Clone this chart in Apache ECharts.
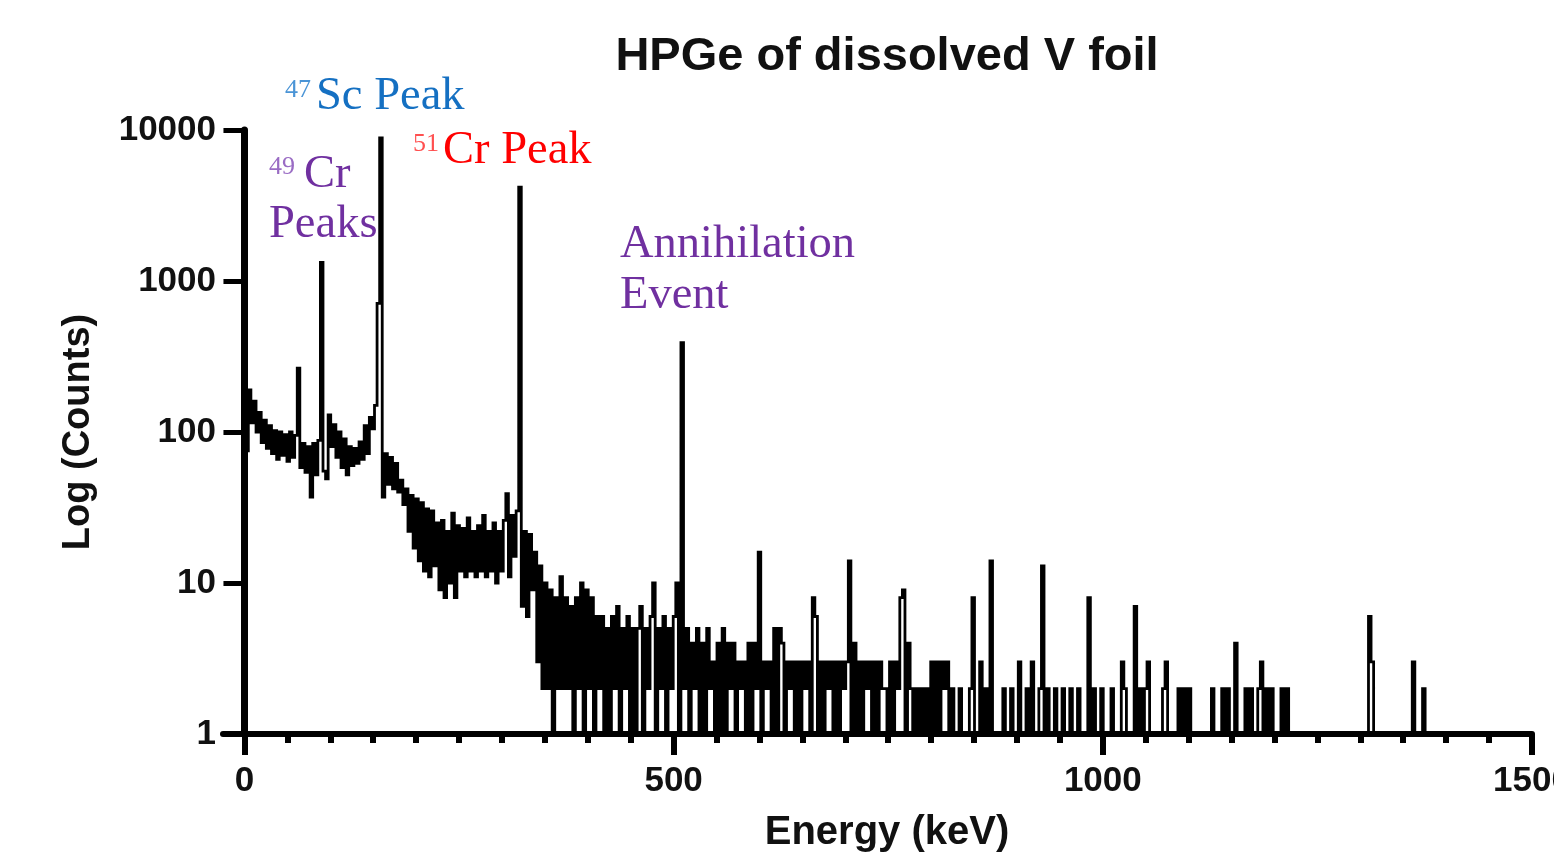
<!DOCTYPE html>
<html>
<head>
<meta charset="utf-8">
<title>HPGe of dissolved V foil</title>
<script src="https://cdn.jsdelivr.net/npm/echarts@6/dist/echarts.min.js"></script>
<style>
  html, body { margin: 0; padding: 0; background: #fff; }
  #chart { width: 1554px; height: 852px; }
</style>
</head>
<body>
<div id="chart"></div>
<script>
// spectrum, one value per 3 keV channel (0 counts drawn as 1)
const keVPerChannel = 3;
const counts = [
  210, 75, 190, 115, 160, 100, 135, 85, 120, 78,
  110, 72, 102, 66, 100, 70, 96, 64, 100, 68,
  95, 265, 58, 84, 54, 80, 37, 84, 52, 88,
  1330, 55, 49, 130, 80, 112, 68, 100, 58, 90,
  52, 80, 60, 78, 62, 86, 66, 110, 72, 125,
  105, 150, 710, 8850, 37, 72, 45, 68, 42, 62,
  40, 48, 33, 42, 22, 38, 17, 36, 14, 34,
  12, 31, 11, 30, 13, 25, 9, 26, 8, 22,
  10, 29, 8, 24, 12, 23, 11, 27, 12, 22,
  11, 24, 12, 28, 11, 22, 12, 25, 10, 22,
  12, 26, 39, 11, 28, 15, 30, 4180, 7, 22,
  6, 21, 9, 16, 3, 13, 2, 10, 2, 9,
  1, 8, 2, 11, 2, 8, 2, 7, 1, 8,
  2, 10, 1, 9, 2, 8, 1, 6, 2, 6,
  1, 5, 1, 6, 2, 7, 1, 5, 2, 6,
  1, 5, 1, 5, 7, 1, 5, 2, 6, 10,
  1, 5, 2, 6, 1, 5, 2, 6, 10, 1,
  390, 2, 5, 1, 4, 2, 5, 1, 4, 1,
  5, 2, 3, 1, 4, 1, 5, 1, 4, 2,
  4, 1, 3, 2, 3, 1, 4, 1, 4, 2,
  16, 1, 3, 2, 3, 1, 5, 1, 5, 4,
  1, 3, 2, 3, 1, 3, 1, 3, 2, 3,
  1, 8, 6, 1, 3, 1, 3, 2, 3, 1,
  3, 1, 3, 2, 3, 14, 1, 4, 1, 3,
  1, 3, 2, 3, 1, 3, 1, 3, 2, 2,
  1, 3, 1, 3, 2, 8, 9, 1, 4, 2,
  1, 2, 1, 2, 1, 2, 1, 3, 1, 3,
  1, 3, 2, 3, 1, 2, 1, 1, 2, 1,
  1, 1, 2, 8, 1, 1, 3, 1, 2, 1,
  14, 1, 1, 1, 1, 2, 1, 1, 2, 1,
  1, 3, 1, 1, 2, 1, 3, 1, 1, 2,
  13, 1, 2, 1, 1, 2, 1, 1, 2, 1,
  1, 2, 1, 1, 2, 1, 1, 1, 8, 1,
  2, 1, 1, 2, 1, 1, 1, 2, 1, 1,
  1, 3, 2, 1, 1, 1, 7, 1, 2, 1,
  2, 3, 1, 1, 1, 1, 1, 2, 3, 1,
  1, 1, 1, 2, 1, 2, 1, 2, 1, 1,
  1, 1, 1, 1, 1, 1, 2, 1, 1, 1,
  2, 1, 2, 1, 1, 4, 1, 1, 1, 2,
  1, 2, 1, 1, 2, 3, 1, 2, 1, 2,
  1, 1, 1, 2, 1, 2, 1, 1, 1, 1,
  1, 1, 1, 1, 1, 1, 1, 1, 1, 1,
  1, 1, 1, 1, 1, 1, 1, 1, 1, 1,
  1, 1, 1, 1, 1, 1, 1, 6, 3, 1,
  1, 1, 1, 1, 1, 1, 1, 1, 1, 1,
  1, 1, 1, 1, 3, 1, 1, 1, 2, 1,
  1, 1, 1, 1
];

const xMajorTicks = [0, 500, 1000, 1500];
const xMinorTicks = [50, 100, 150, 200, 250, 300, 350, 400, 450,
  550, 600, 650, 700, 750, 800, 850, 900, 950,
  1050, 1100, 1150, 1200, 1250, 1300, 1350, 1400, 1450];

const spectrum = counts.map((c, i) => [i * keVPerChannel, c]);

const chart = echarts.init(document.getElementById('chart'));

const sans = '"Liberation Sans", Arial, sans-serif';
const serif = '"Liberation Serif", "Times New Roman", serif';
const ink = '#111';

function note(text, x, y, size, color) {
  return {
    type: 'text',
    style: {
      text: text, x: x, y: y,
      font: size + 'px ' + serif,
      fill: color,
      align: 'left', verticalAlign: 'middle',
      textAlign: 'left', textVerticalAlign: 'middle'
    },
    silent: true
  };
}

const option = {
  animation: false,
  backgroundColor: '#fff',
  title: {
    text: 'HPGe of dissolved V foil',
    left: 887,
    top: 34,
    padding: 0,
    textAlign: 'center',
    textStyle: { fontFamily: sans, fontSize: 47, fontWeight: 'bold', color: ink }
  },
  grid: { left: 223, right: 22, top: 130, bottom: 118, outerBoundsMode: 'none', containLabel: false },
  xAxis: [
    {
      type: 'value',
      min: -25,
      max: 1500,
      position: 'bottom',
      name: 'Energy (keV)',
      nameLocation: 'middle',
      nameGap: 79,
      nameTextStyle: { fontFamily: sans, fontSize: 40, fontWeight: 'bold', color: ink, padding: [0, 0, 0, 19] },
      axisLine: { onZero: false, lineStyle: { color: '#000', width: 6 } },
      axisTick: { customValues: xMajorTicks, length: 21, lineStyle: { color: '#000', width: 6 } },
      axisLabel: {
        customValues: xMajorTicks,
        margin: 30,
        fontFamily: sans, fontSize: 35, fontWeight: 'bold', color: ink,
        formatter: v => String(v)
      },
      splitLine: { show: false }
    },
    {
      type: 'value',
      min: -25,
      max: 1500,
      position: 'bottom',
      axisLine: { show: false, onZero: false },
      axisTick: { customValues: xMinorTicks, length: 9, lineStyle: { color: '#000', width: 6 } },
      axisLabel: { show: false },
      splitLine: { show: false }
    }
  ],
  yAxis: {
    type: 'log',
    logBase: 10,
    min: 1,
    max: 10000,
    name: 'Log (Counts)',
    nameLocation: 'middle',
    nameGap: 125,
    nameTextStyle: { fontFamily: sans, fontSize: 38, fontWeight: 'bold', color: ink },
    axisLine: { onZero: true, lineStyle: { color: '#000', width: 7 } },
    axisTick: { length: 21, lineStyle: { color: '#000', width: 5 } },
    axisLabel: {
      margin: 7,
      fontFamily: sans, fontSize: 35, fontWeight: 'bold', color: ink,
      formatter: v => String(Math.round(v))
    },
    splitLine: { show: false },
    minorTick: { show: false }
  },
  series: [
    {
      type: 'line',
      xAxisIndex: 0,
      data: spectrum,
      step: 'middle',
      showSymbol: false,
      symbol: 'none',
      lineStyle: { color: '#000', width: 2.8, join: 'miter' },
      z: 3
    }
  ],
  graphic: [
    note('47', 285, 90, 26, '#4a94d6'),
    note('Sc Peak', 316, 97, 46.5, '#1570c2'),
    note('51', 413, 144, 26, '#ff5050'),
    note('Cr Peak', 443, 151, 46.5, '#ff0000'),
    note('49', 269, 167, 26, '#9a6cc4'),
    note('Cr', 304, 175, 46.5, '#7030a0'),
    note('Peaks', 269, 225, 46.5, '#7030a0'),
    note('Annihilation', 620, 245, 46.5, '#7030a0'),
    note('Event', 620, 296, 46.5, '#7030a0')
  ]
};

chart.setOption(option);
</script>
</body>
</html>
